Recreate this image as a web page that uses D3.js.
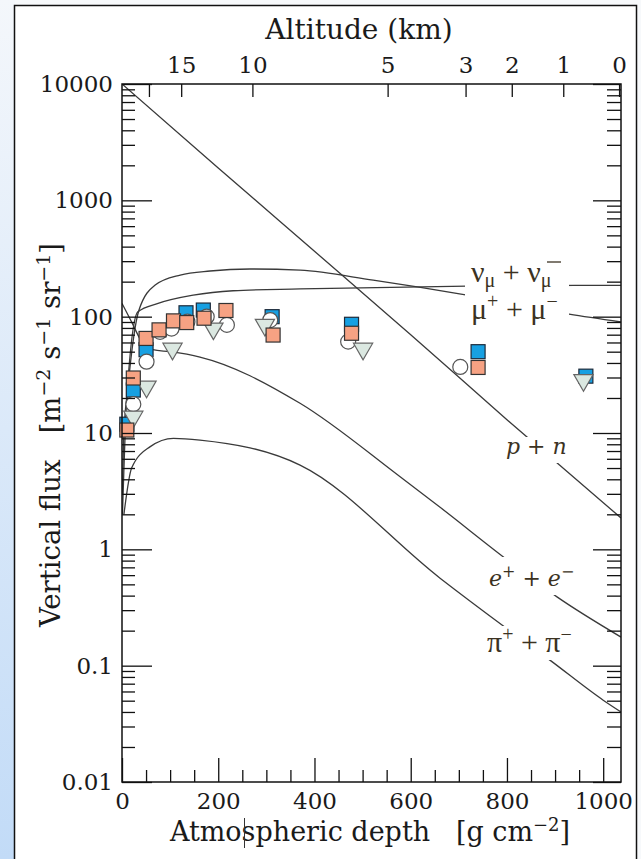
<!DOCTYPE html>
<html>
<head>
<meta charset="utf-8">
<script src="https://cdn.jsdelivr.net/npm/d3@7"></script>
<style>
  html, body { margin: 0; padding: 0; background: #fff; }
  svg { display: block; font-family: "DejaVu Serif", serif; }
</style>
</head>
<body>
<svg id="chart" width="641" height="859"></svg>
<script>
// ---- data (depth in g cm^-2, flux in m^-2 s^-1 sr^-1)

var pnDepth = [0, 200, 400, 600, 800, 1037];
var pnFlux  = [10000, 1900, 365, 70, 13, 1.86];

var muDepth = [1, 4, 12, 35, 69, 121, 183, 266, 370, 522, 717, 929, 1037];
var muFlux  = [3, 10, 24, 113, 187, 228, 247, 257, 251, 206, 153, 105, 90];

var nuDepth = [1, 10, 33, 75, 148, 231, 370, 717, 1037];
var nuFlux  = [2, 20, 110, 130, 153, 167, 173, 183, 186];

var eDepth = [0, 23, 37, 64, 100, 162, 370, 578, 661, 796, 904, 1037];
var eFlux  = [130, 85, 65, 52, 50, 45, 18, 4.2, 2.3, 0.84, 0.39, 0.176];

var piDepth = [4, 20, 58, 107, 162, 370, 661, 796, 890, 1000, 1037];
var piFlux  = [2, 5, 7.6, 9.0, 8.7, 5.3, 0.565, 0.214, 0.111, 0.0505, 0.04];

// measurements (mu- data)
var blueDepth = [10, 23.5, 50, 133, 169, 312, 477, 740, 964];
var blueFlux  = [11.9, 23.4, 52, 108, 114, 100, 86, 50, 30.8];

var salmonDepth = [10, 23.5, 50, 77, 107, 134.5, 170.5, 216, 314, 477, 740];
var salmonFlux  = [10.6, 29.7, 65, 77, 92, 89, 97, 113, 69.5, 72, 36.6];

var circleDepth = [23.5, 51, 79, 103, 136, 176, 218, 308, 470, 703];
var circleFlux  = [17.7, 41, 74, 79, 90.5, 100, 85, 93.5, 61, 37];

var triDepth = [23.5, 51, 105, 190, 297, 501, 959];
var triFlux  = [13.8, 25, 53, 79, 85, 53, 28.5];

// axes ticks
var yMajor = [0.01, 0.1, 1, 10, 100, 1000, 10000];
var yLabels = ["0.01", "0.1", "1", "10", "100", "1000", "10000"];
var xMajor = [0, 200, 400, 600, 800, 1000];
var altKm    = [20, 15, 10, 5, 3, 2, 1, 0];
var altDepth = [56, 123, 271, 552, 714, 810, 917, 1033];

// ---- canvas

var svg = d3.select("#chart");
var defs = svg.append("defs");

var grad = defs.append("linearGradient")
	.attr("id", "sideGrad")
	.attr("x1", 0).attr("y1", 0).attr("x2", 0).attr("y2", 1);
grad.append("stop").attr("offset", "0%").attr("stop-color", "#f4f7fb");
grad.append("stop").attr("offset", "100%").attr("stop-color", "#c2dbf7");

svg.append("rect").attr("width", 641).attr("height", 859).attr("fill", "#f7f9fb");
svg.append("rect").attr("width", 15).attr("height", 859).attr("fill", "url(#sideGrad)");
svg.append("rect")
	.attr("x", 14.5).attr("y", 5.5)
	.attr("width", 622).attr("height", 900)
	.attr("fill", "#fff")
	.attr("stroke", "#111")
	.attr("stroke-width", 1.5);

var x = d3.scaleLinear().domain([0, 1037]).range([122, 621]);
var y = d3.scaleLog().domain([0.01, 10000]).range([782, 84]);

var yMinor = [];
yMajor.slice(0, -1).forEach(d => {
	for (var k = 2; k <= 9; k++) yMinor.push(d * k);
});
var xMinor = d3.range(50, 1037, 50).filter(d => d % 200 != 0);

var g = svg.append("g");

// ---- curves

var line = d3.line()
	.x(d => x(d[0]))
	.y(d => y(d[1]))
	.curve(d3.curveMonotoneX);

function zip(a, b) { return a.map((d, i) => [d, b[i]]); }

var curves = [
	zip(pnDepth, pnFlux),
	zip(muDepth, muFlux),
	zip(nuDepth, nuFlux),
	zip(eDepth, eFlux),
	zip(piDepth, piFlux)
];

svg.append("clipPath").attr("id", "plotClip")
	.append("rect").attr("x", 122).attr("y", 84).attr("width", 499).attr("height", 698);

g.append("g")
	.attr("clip-path", "url(#plotClip)")
	.selectAll("path")
	.data(curves)
	.enter()
	.append("path")
	.attr("d", line)
	.attr("fill", "none")
	.attr("stroke", "#3a3a3a")
	.attr("stroke-width", 1.3);

// ---- data markers

var mk = g.append("g").attr("stroke-width", 1.2);
var sq = 14;

mk.selectAll(".blue")
	.data(zip(blueDepth, blueFlux))
	.enter()
	.append("rect")
	.attr("x", d => x(d[0]) - sq / 2)
	.attr("y", d => y(d[1]) - sq / 2)
	.attr("width", sq).attr("height", sq)
	.attr("fill", "#17a0e2")
	.attr("stroke", "#1d2a3a");

mk.selectAll(".circ")
	.data(zip(circleDepth, circleFlux))
	.enter()
	.append("circle")
	.attr("cx", d => x(d[0]))
	.attr("cy", d => y(d[1]))
	.attr("r", 7.5)
	.attr("fill", "#fff")
	.attr("stroke", "#555");

mk.selectAll(".tri")
	.data(zip(triDepth, triFlux))
	.enter()
	.append("path")
	.attr("d", d3.symbol(d3.symbolTriangle, 160))
	.attr("transform", d => "translate(" + x(d[0]) + "," + y(d[1]) + ") rotate(180)")
	.attr("fill", "#dbe8e1")
	.attr("stroke", "#666");

mk.selectAll(".salmon")
	.data(zip(salmonDepth, salmonFlux))
	.enter()
	.append("rect")
	.attr("x", d => x(d[0]) - sq / 2)
	.attr("y", d => y(d[1]) - sq / 2)
	.attr("width", sq).attr("height", sq)
	.attr("fill", "#f6a283")
	.attr("stroke", "#333");

// ---- axes

function styleAxis(sel) {
	sel.select(".domain").remove();
	sel.selectAll("line").attr("stroke", "#111").attr("stroke-width", 1.3);
	sel.selectAll("text").attr("fill", "#1a1a1a").attr("font-size", "23px")
		.attr("font-family", "DejaVu Serif, serif");
}

g.append("g").attr("transform", "translate(122,0)")
	.call(d3.axisLeft(y).tickValues(yMajor).tickSize(-30).tickPadding(9)
		.tickFormat((d, i) => yLabels[i]))
	.call(styleAxis);
g.append("g").attr("transform", "translate(122,0)")
	.call(d3.axisLeft(y).tickValues(yMinor).tickSize(-13).tickFormat(""))
	.call(styleAxis);
g.append("g").attr("transform", "translate(621,0)")
	.call(d3.axisRight(y).tickValues(yMajor).tickSize(-28).tickFormat(""))
	.call(styleAxis);
g.append("g").attr("transform", "translate(621,0)")
	.call(d3.axisRight(y).tickValues(yMinor).tickSize(-14).tickFormat(""))
	.call(styleAxis);

g.append("g").attr("transform", "translate(0,782)")
	.call(d3.axisBottom(x).tickValues(xMajor).tickSize(-24).tickPadding(11)
		.tickFormat(d3.format("d")))
	.call(styleAxis);
g.append("g").attr("transform", "translate(0,782)")
	.call(d3.axisBottom(x).tickValues(xMinor).tickSize(-12).tickFormat(""))
	.call(styleAxis);

g.append("g").attr("transform", "translate(0,84)")
	.call(d3.axisTop(x).tickValues(altDepth).tickSize(-13).tickPadding(11)
		.tickFormat((d, i) => altKm[i] == 20 ? "" : altKm[i]))
	.call(styleAxis);

// frame of the plot
g.append("rect")
	.attr("x", 122).attr("y", 84)
	.attr("width", 499).attr("height", 698)
	.attr("fill", "none")
	.attr("stroke", "#111")
	.attr("stroke-width", 1.5);

// ---- curve labels, with white backing to break the lines

var lab = g.append("g").attr("fill", "#3b3222").attr("font-size", "22px");
var greek = "Liberation Serif, serif";

[[465, 258, 104, 72], [505, 437, 60, 26], [485, 557, 86, 38], [485, 626, 100, 34]].forEach(r => {
	lab.append("rect").attr("x", r[0]).attr("y", r[1]).attr("width", r[2]).attr("height", r[3]).attr("fill", "#fff");
});

var t1 = lab.append("text").attr("x", 471).attr("y", 282).attr("font-family", greek).attr("font-size", "30px");
t1.append("tspan").text("ν");
t1.append("tspan").attr("font-size", "20px").attr("dy", 5).text("μ");
t1.append("tspan").attr("dy", -5).text(" + ν");
t1.append("tspan").attr("font-size", "20px").attr("dy", 5).text("μ");
lab.append("line").attr("x1", 547).attr("x2", 561).attr("y1", 262).attr("y2", 262)
	.attr("stroke", "#3b3222").attr("stroke-width", 1.3);

var t2 = lab.append("text").attr("x", 471).attr("y", 319).attr("font-family", greek).attr("font-size", "30px");
t2.append("tspan").text("μ");
t2.append("tspan").attr("font-size", "20px").attr("dy", -11).text("+");
t2.append("tspan").attr("dy", 11).text(" + μ");
t2.append("tspan").attr("font-size", "20px").attr("dy", -11).text("−");

lab.append("text").attr("x", 506).attr("y", 454)
	.attr("font-style", "italic").text("p + n");

var t3 = lab.append("text").attr("x", 489).attr("y", 586).attr("font-style", "italic");
t3.append("tspan").text("e");
t3.append("tspan").attr("font-size", "16px").attr("dy", -9).attr("font-style", "normal").text("+");
t3.append("tspan").attr("dy", 9).attr("font-style", "normal").text(" + ");
t3.append("tspan").text("e");
t3.append("tspan").attr("font-size", "16px").attr("dy", -9).attr("font-style", "normal").text("−");

var t4 = lab.append("text").attr("x", 487).attr("y", 652).attr("font-family", greek).attr("font-size", "30px");
t4.append("tspan").text("π");
t4.append("tspan").attr("font-size", "20px").attr("dy", -11).text("+");
t4.append("tspan").attr("dy", 11).text(" + π");
t4.append("tspan").attr("font-size", "20px").attr("dy", -11).text("−");

// ---- axis titles

svg.append("text")
	.attr("x", 359).attr("y", 39)
	.attr("text-anchor", "middle")
	.attr("font-size", "28px")
	.attr("fill", "#1a1a1a")
	.text("Altitude (km)");

var xt = svg.append("text")
	.attr("x", 370).attr("y", 841)
	.attr("text-anchor", "middle")
	.attr("font-size", "27px")
	.attr("fill", "#1a1a1a")
	.attr("xml:space", "preserve");
xt.append("tspan").text("Atmospheric depth   [g cm");
xt.append("tspan").attr("font-size", "18px").attr("dy", -10).text("−2");
xt.append("tspan").attr("dy", 10).text("]");

svg.append("line")
	.attr("x1", 244.5).attr("x2", 244.5)
	.attr("y1", 818).attr("y2", 848)
	.attr("stroke", "#333").attr("stroke-width", 1);

var yt = svg.append("text")
	.attr("transform", "translate(60,435) rotate(-90)")
	.attr("text-anchor", "middle")
	.attr("font-size", "27.5px")
	.attr("fill", "#1a1a1a")
	.attr("xml:space", "preserve");
yt.append("tspan").text("Vertical flux   [m");
yt.append("tspan").attr("font-size", "19px").attr("dy", -10).text("−2");
yt.append("tspan").attr("dy", 10).text(" s");
yt.append("tspan").attr("font-size", "19px").attr("dy", -10).text("−1");
yt.append("tspan").attr("dy", 10).text(" sr");
yt.append("tspan").attr("font-size", "19px").attr("dy", -10).text("−1");
yt.append("tspan").attr("dy", 10).text("]");
</script>
</body>
</html>
